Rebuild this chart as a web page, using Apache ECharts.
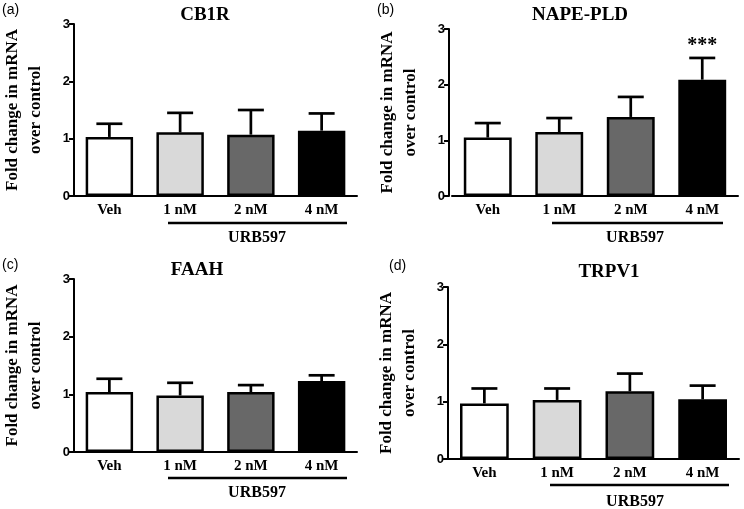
<!DOCTYPE html>
<html><head><meta charset="utf-8">
<script src="https://cdn.jsdelivr.net/npm/echarts@6/dist/echarts.min.js"></script>
<style>html,body{margin:0;padding:0;background:#fff}#c{width:744px;height:509px}</style>
</head><body><div id="c"></div>
<script>
const categories = ['Veh', '1 nM', '2 nM', '4 nM'];
const yTicks = [0, 1, 2, 3];
const groupLabel = 'URB597';
const yLabel = 'Fold change in mRNA\nover control';

const titles = ['CB1R', 'NAPE-PLD', 'FAAH', 'TRPV1'];
const panelTags = ['(a)', '(b)', '(c)', '(d)'];

const cb1rMean = [1.03, 1.11, 1.07, 1.14];
const cb1rSem = [0.23, 0.34, 0.43, 0.30];
const napeMean = [1.05, 1.15, 1.42, 2.09];
const napeSem = [0.26, 0.25, 0.36, 0.39];
const faahMean = [1.04, 0.98, 1.04, 1.23];
const faahSem = [0.23, 0.22, 0.12, 0.10];
const trpv1Mean = [0.97, 1.03, 1.18, 1.04];
const trpv1Sem = [0.26, 0.20, 0.31, 0.24];
const napeSig = ['', '', '', '***'];
const noSig = ['', '', '', ''];

const barColors = ['#ffffff', '#d9d9d9', '#686868', '#000000'];

const means = [cb1rMean, napeMean, faahMean, trpv1Mean];
const sems = [cb1rSem, napeSem, faahSem, trpv1Sem];
const sigs = [noSig, napeSig, noSig, noSig];

const grids = [
  {left: 67, top: 24, width: 290, height: 172},
  {left: 452, top: 29, width: 286, height: 167},
  {left: 67, top: 279, width: 290, height: 173},
  {left: 448, top: 287, width: 291, height: 172}
];
const yOffsets = [0, 3, 0, 0];
const titlePos = [[205, 15], [580, 15], [197, 270], [609, 272]];
const tagPos = [[2, 3], [377, 3], [2, 258], [389, 259]];
const linePos = [[168, 347, 223], [552, 723, 223], [168, 347, 478], [550, 729, 485]];
const groupPos = [[257, 238], [635, 238], [257, 493], [635, 502]];

const serif = '"Liberation Serif","Times New Roman",serif';
const sans = '"Liberation Sans",Arial,sans-serif';

const option = {
  animation: false,
  backgroundColor: '#fff',
  grid: grids.map(g => Object.assign({containLabel: false}, g)),
  xAxis: grids.map((g, i) => ({
    type: 'category', gridIndex: i, data: categories,
    axisLine: {lineStyle: {color: '#000', width: 2}},
    axisTick: {show: false},
    axisLabel: {color: '#000', fontFamily: serif, fontWeight: 'bold', fontSize: 15, margin: 7}
  })),
  yAxis: grids.map((g, i) => ({
    type: 'value', gridIndex: i, min: yTicks[0], max: yTicks[yTicks.length - 1], interval: 1,
    offset: yOffsets[i],
    splitLine: {show: false},
    axisLine: {show: true, lineStyle: {color: '#000', width: 2}},
    axisTick: {show: true, length: 5, lineStyle: {color: '#000', width: 2}},
    axisLabel: {color: '#000', fontFamily: sans, fontWeight: 'bold', fontSize: 13, margin: 4},
    name: yLabel, nameLocation: 'middle', nameRotate: 90, nameGap: 27,
    nameTextStyle: {color: '#000', fontFamily: serif, fontWeight: 'bold', fontSize: 17, lineHeight: 23}
  })),
  series: [],
  graphic: []
};

means.forEach((m, i) => {
  option.series.push({
    type: 'bar', xAxisIndex: i, yAxisIndex: i, barCategoryGap: '33%',
    data: m.map((v, j) => ({value: v, itemStyle: {color: barColors[j]}})),
    itemStyle: {borderColor: '#000', borderWidth: 2.5},
    z: 2
  });
  option.series.push({
    type: 'custom', xAxisIndex: i, yAxisIndex: i, z: 3,
    data: m.map((v, j) => [j, v, v + sems[i][j], sigs[i][j]]),
    renderItem: function (params, api) {
      const base = api.coord([api.value(0), api.value(1)]);
      const top = api.coord([api.value(0), api.value(2)]);
      const sig = sigs[i][params.dataIndex];
      const hw = 13;
      const children = [
        {type: 'line', shape: {x1: base[0], y1: base[1], x2: top[0], y2: top[1]}, style: {stroke: '#000', lineWidth: 2.7}},
        {type: 'line', shape: {x1: top[0] - hw, y1: top[1], x2: top[0] + hw, y2: top[1]}, style: {stroke: '#000', lineWidth: 2.7}}
      ];
      if (sig) {
        children.push({type: 'text', style: {text: sig, x: top[0], y: top[1] - 12, align: 'center', verticalAlign: 'middle',
          fontFamily: serif, fontWeight: 'bold', fontSize: 20, fill: '#000'}});
      }
      return {type: 'group', children: children};
    }
  });
  option.graphic.push({type: 'text', left: tagPos[i][0], top: tagPos[i][1],
    style: {text: panelTags[i], fontFamily: sans, fontSize: 14, fill: '#000'}});
  option.graphic.push({type: 'text', x: titlePos[i][0], y: titlePos[i][1],
    style: {text: titles[i], align: 'center', verticalAlign: 'middle', fontFamily: serif, fontWeight: 'bold', fontSize: 19, fill: '#000'}});
  option.graphic.push({type: 'line', shape: {x1: linePos[i][0], y1: linePos[i][2], x2: linePos[i][1], y2: linePos[i][2]},
    style: {stroke: '#000', lineWidth: 2.7}});
  option.graphic.push({type: 'text', x: groupPos[i][0], y: groupPos[i][1],
    style: {text: groupLabel, align: 'center', verticalAlign: 'middle', fontFamily: serif, fontWeight: 'bold', fontSize: 16, fill: '#000'}});
});

const chart = echarts.init(document.getElementById('c'), null, {renderer: 'canvas'});
chart.setOption(option);
</script>
</body></html>
